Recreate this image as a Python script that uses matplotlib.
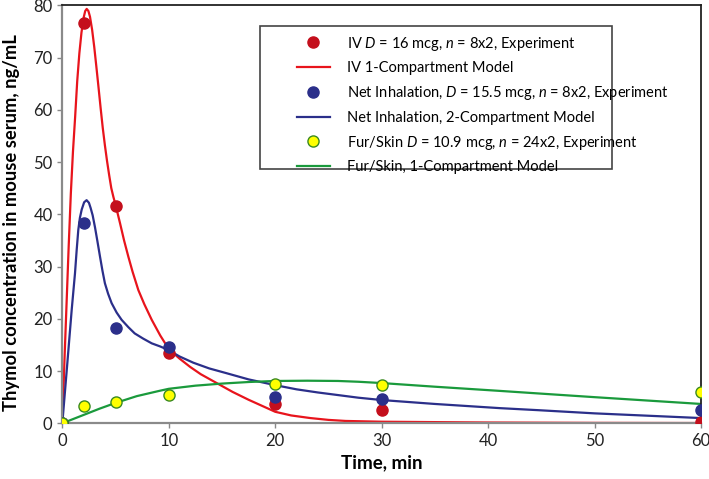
import matplotlib
matplotlib.use('Agg')
import matplotlib.pyplot as plt
from matplotlib.patches import Rectangle

plt.rcParams['font.family'] = ['Lato', 'DejaVu Sans']
plt.rcParams['mathtext.fontset'] = 'custom'
plt.rcParams['mathtext.it'] = 'Lato:italic'
plt.rcParams['mathtext.rm'] = 'Lato'

# experimental points (min, ng/mL)
t_exp = [0, 2, 5, 10, 20, 30, 60]
iv_exp = [0, 76.6, 41.5, 13.4, 3.6, 2.5, 0.2]
inh_exp = [0, 38.4, 18.2, 14.6, 5.0, 4.6, 2.5]
fur_exp = [0, 3.4, 4.0, 5.5, 7.5, 7.4, 5.9]

# model curves
t_iv = [0, 0.2, 0.4, 0.6, 0.8, 1.0, 1.2, 1.4, 1.6, 1.8, 2.0, 2.15, 2.29, 2.45, 2.6,
        2.8, 3.0, 3.2, 3.4, 3.6, 3.8, 4.0, 4.2, 4.4, 4.6, 4.8, 5.0, 5.42, 5.8, 6.2,
        6.6, 7.14, 7.7, 8.4, 9.2, 10, 11, 12, 13, 14.5, 16, 17.5, 20, 21.5, 23.3,
        25, 26.6, 30, 40, 50, 60]
iv_mod = [0, 12, 23, 34, 44, 52, 58.5, 65.5, 70.8, 74.8, 77.6, 78.9, 79.3, 78.9, 77.8,
          75.3, 72, 68.2, 64.3, 60.3, 56.5, 53.2, 50.2, 47.5, 45.0, 43.3, 41.8, 38.3, 35.0, 31.9,
          29.0, 25.5, 22.8, 19.8, 16.8, 14.2, 12.4, 10.8, 9.4, 7.7, 6.0, 4.5, 2.2, 1.5, 1.0,
          0.65, 0.45, 0.3, 0.15, 0.08, 0.05]

t_inh = [0, 0.45, 0.88, 1.19, 1.35, 1.5, 1.65, 1.82, 2.05, 2.28, 2.5, 2.66, 2.85,
         3.07, 3.3, 3.54, 3.77, 4.0, 4.3, 4.63, 5.1, 5.57, 6.2, 6.8, 7.6, 8.4, 9.2,
         10, 11, 12.3, 13.8, 15.4, 17.5, 20, 22, 24, 27.8, 30, 35, 41.1, 44.8, 50,
         55, 60]
inh_mod = [0, 11, 21.7, 28.7, 33.2, 37.0, 39.3, 40.9, 42.3, 42.7, 42.2, 41.2, 39.8,
           37.5, 34.8, 31.9, 29.2, 26.8, 24.8, 23.0, 21.2, 19.8, 18.4, 17.2, 16.2, 15.3, 14.7,
           14.0, 12.8, 11.6, 10.5, 9.6, 8.4, 7.3, 6.5, 5.9, 4.9, 4.45, 3.7, 2.9,
           2.5, 1.9, 1.45, 1.0]

t_fur = [0, 1, 2, 3.5, 5, 7, 9.1, 10, 12.5, 15, 17.5, 20, 23, 25.9, 27.8, 30, 35,
         41.1, 44.8, 50, 55, 60]
fur_mod = [0, 0.8, 1.6, 2.8, 3.9, 5.2, 6.2, 6.6, 7.2, 7.6, 7.9, 8.1, 8.15, 8.1,
           7.95, 7.7, 7.0, 6.2, 5.7, 5.0, 4.35, 3.7]

red_line = '#e8141c'
red_dot = '#c40f1c'
blue = '#2b2f8a'
green = '#1a9a3c'

fig = plt.figure(figsize=(7.09, 4.79), dpi=100)
ax = fig.add_axes([0.0879, 0.1163, 0.9009, 0.8727])

ax.plot(t_iv, iv_mod, color=red_line, lw=1.6, zorder=2, label='IV 1-Compartment Model')
ax.plot(t_inh, inh_mod, color=blue, lw=1.6, zorder=2, label='Net Inhalation, 2-Compartment Model')
ax.plot(t_fur, fur_mod, color=green, lw=1.6, zorder=2, label='Fur/Skin, 1-Compartment Model')

ax.plot(t_exp, iv_exp, 'o', ms=8, color=red_dot, mec=red_dot, zorder=3,
        label='IV $D$ = 16 mcg, $n$ = 8x2, Experiment')
ax.plot(t_exp, inh_exp, 'o', ms=8, color=blue, mec=blue, zorder=3,
        label='Net Inhalation, $D$ = 15.5 mcg, $n$ = 8x2, Experiment')
ax.plot(t_exp, fur_exp, 'o', ms=8, color='#ffff00', mec='#3a8a20', mew=1.0, zorder=4,
        label='Fur/Skin $D$ = 10.9 mcg, $n$ = 24x2, Experiment')

ax.set_xlim(0, 60)
ax.set_ylim(0, 80)
ax.set_xticks(range(0, 61, 10))
ax.set_yticks(range(0, 81, 10))
ax.tick_params(direction='out', length=3.5, width=1, color='#888888',
               labelsize=12, labelcolor='#222222', pad=3.5)

for s in ['left', 'bottom']:
    ax.spines[s].set_color('#8a8a8a')
    ax.spines[s].set_linewidth(1.6)
for s in ['top', 'right']:
    ax.spines[s].set_color('#222222')
    ax.spines[s].set_linewidth(1.3)

ax.set_xlabel('Time, min', fontsize=13.5, fontweight='bold', labelpad=4)
ax.set_ylabel('Thymol concentration in mouse serum, ng/mL', fontsize=13.2,
              fontweight='bold')
ax.yaxis.set_label_coords(-0.066, 0.48)

handles, labels = ax.get_legend_handles_labels()
order = [3, 0, 4, 1, 5, 2]
ax.legend([handles[i] for i in order], [labels[i] for i in order],
          loc='upper left', bbox_to_anchor=(0.367, 0.93), frameon=False,
          borderpad=0, borderaxespad=0, fontsize=10.5, labelspacing=0.6,
          handlelength=2.27, handletextpad=1.15, numpoints=1)

ax.add_patch(Rectangle((0.3095, 0.6084), 0.5512, 0.3421, transform=ax.transAxes,
                       fill=False, edgecolor='#444444', lw=1.2, zorder=5))

fig.savefig('out.png', dpi=100)
